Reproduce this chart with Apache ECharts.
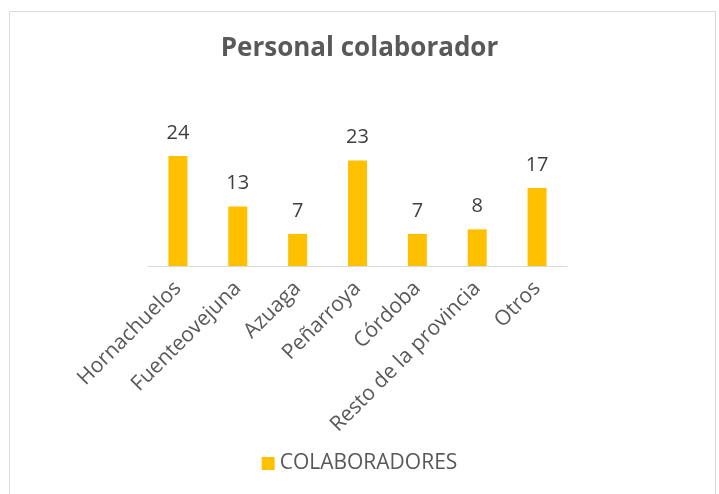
<!DOCTYPE html>
<html>
<head>
<meta charset="utf-8">
<script src="https://cdn.jsdelivr.net/npm/echarts@6/dist/echarts.min.js"></script>
<style>
  html, body { margin: 0; padding: 0; background: #fff; }
  #chart { width: 719px; height: 494px; }
</style>
</head>
<body>
<div id="chart"></div>
<script>
// datos
var categorias = ["Hornachuelos", "Fuenteovejuna", "Azuaga", "Peñarroya", "Córdoba", "Resto de la provincia", "Otros"];
var colaboradores = [24, 13, 7, 23, 7, 8, 17];
var nombreSerie = "COLABORADORES";

(function () {
    var myChart = echarts.init(document.getElementById("chart"));
    var fuente = "'Open Sans', 'Noto Sans', sans-serif";
    var option = {
        animation: false,
        title: {
            text: "Personal colaborador",
            left: "center",
            top: 31,
            textStyle: {
                color: "#595959",
                fontSize: 26,
                fontWeight: "bold",
                fontFamily: fuente
            }
        },
        // marco del gráfico
        graphic: [
            {
                type: "rect",
                shape: { x: 9.5, y: 11.5, width: 706, height: 500 },
                style: { fill: "none", stroke: "#d9d9d9", lineWidth: 1 },
                silent: true
            }
        ],
        legend: {
            data: [nombreSerie],
            bottom: 15,
            left: "center",
            itemWidth: 13,
            itemHeight: 13,
            itemGap: 6,
            icon: "rect",
            textStyle: {
                color: "#595959",
                fontSize: 21,
                fontFamily: fuente
            }
        },
        grid: {
            left: 148,
            right: 152,
            top: 128.5,
            bottom: 228
        },
        xAxis: {
            type: "category",
            data: categorias,
            axisTick: { show: false },
            axisLine: {
                lineStyle: { color: "#d9d9d9", width: 1 }
            },
            axisLabel: {
                rotate: 45,
                interval: 0,
                margin: 19,
                color: "#595959",
                fontSize: 21,
                fontFamily: fuente
            }
        },
        yAxis: {
            type: "value",
            min: 0,
            max: 30,
            show: false,
            splitLine: { show: false }
        },
        series: [
            {
                name: nombreSerie,
                type: "bar",
                data: colaboradores,
                barWidth: 19,
                itemStyle: { color: "#FFC000" },
                label: {
                    show: true,
                    position: "top",
                    distance: 13,
                    color: "#404040",
                    fontSize: 20,
                    fontFamily: fuente
                }
            }
        ]
    };
    myChart.setOption(option);
    window.onresize = function () {
        myChart.resize();
    };
})();
</script>
</body>
</html>
